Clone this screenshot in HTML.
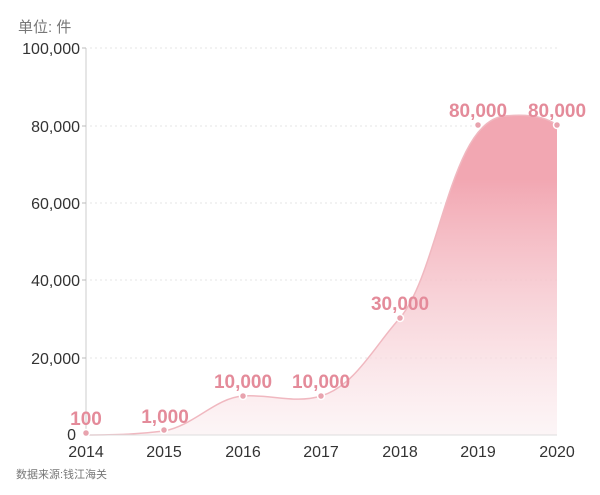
<!DOCTYPE html><html><head><meta charset="utf-8"><style>body{margin:0;background:#fff}svg{display:block}</style></head><body>
<svg width="600" height="495" xmlns="http://www.w3.org/2000/svg" font-family="Liberation Sans, Noto Sans CJK SC, sans-serif">
<defs><linearGradient id="g" x1="0" y1="0" x2="0" y2="1"><stop offset="0.2" stop-color="#f2a7b2"/><stop offset="1" stop-color="#fbeff1" stop-opacity="0.6"/></linearGradient></defs>
<text x="18" y="32" font-size="15" fill="#777">单位: 件</text>
<g stroke="#e6e6e6" stroke-dasharray="2,3"><line x1="90" x2="560" y1="48" y2="48"/><line x1="90" x2="560" y1="126" y2="126"/><line x1="90" x2="560" y1="203" y2="203"/><line x1="90" x2="560" y1="280" y2="280"/><line x1="90" x2="560" y1="358" y2="358"/></g>
<path d="M86,435 C120,435 140,434 164,431 C195,425 215,398 243,396 C270,394 295,404 321,396 C355,386 375,345 400,318 C440,270 450,120 505,116 C535,113 550,120 557,125 L557,435 Z" fill="url(#g)"/>
<path d="M86,435 C120,435 140,434 164,431 C195,425 215,398 243,396 C270,394 295,404 321,396 C355,386 375,345 400,318 C440,270 450,120 505,116 C535,113 550,120 557,125" fill="none" stroke="#f0b8c0" stroke-width="1.5"/>
<line x1="86" y1="48" x2="86" y2="435" stroke="#ccc"/><line x1="86" y1="435" x2="557" y2="435" stroke="#ddd"/>
<g stroke="#bbb"><line x1="82" x2="86" y1="48" y2="48"/><line x1="82" x2="86" y1="126" y2="126"/><line x1="82" x2="86" y1="203" y2="203"/><line x1="82" x2="86" y1="280" y2="280"/><line x1="82" x2="86" y1="358" y2="358"/></g>
<g font-size="16" fill="#333" text-anchor="end"><text x="80" y="54">100,000</text><text x="80" y="132">80,000</text><text x="80" y="209">60,000</text><text x="80" y="286">40,000</text><text x="80" y="364">20,000</text><text x="76" y="440">0</text></g>
<g font-size="16" fill="#333" text-anchor="middle"><text x="86" y="457">2014</text><text x="164" y="457">2015</text><text x="243" y="457">2016</text><text x="321" y="457">2017</text><text x="400" y="457">2018</text><text x="478" y="457">2019</text><text x="557" y="457">2020</text></g>
<g fill="#e8a3ae" stroke="#fff" stroke-width="1.5"><circle cx="86" cy="433" r="3.5"/><circle cx="164" cy="430" r="3.5"/><circle cx="243" cy="396" r="3.5"/><circle cx="321" cy="396" r="3.5"/><circle cx="400" cy="318" r="3.5"/><circle cx="478" cy="125" r="3.5"/><circle cx="557" cy="125" r="3.5"/></g>
<g font-size="19" font-weight="bold" fill="#e48b9a" text-anchor="middle"><text x="86" y="425">100</text><text x="165" y="423">1,000</text><text x="243" y="388">10,000</text><text x="321" y="388">10,000</text><text x="400" y="310">30,000</text><text x="478" y="117">80,000</text><text x="557" y="117">80,000</text></g>
<text x="16" y="478" font-size="11" fill="#777">数据来源:钱江海关</text>
</svg></body></html>
